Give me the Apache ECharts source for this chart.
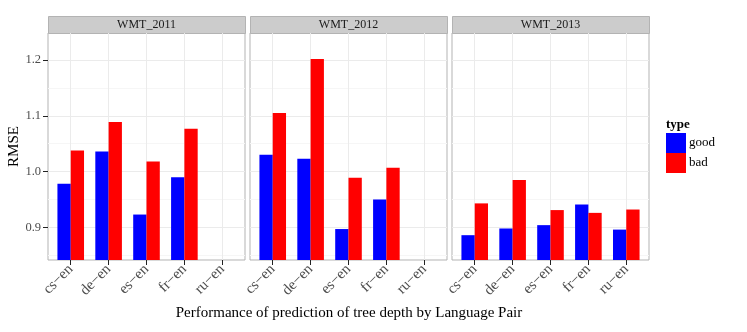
<!DOCTYPE html>
<html>
<head>
<meta charset="utf-8">
<script src="https://cdn.jsdelivr.net/npm/echarts@6/dist/echarts.min.js"></script>
<style>
  html, body { margin: 0; padding: 0; background: #fff; }
  #chart { width: 747px; height: 332px; }
</style>
</head>
<body>
<div id="chart"></div>
<script>
// data
const panels = ['WMT_2011', 'WMT_2012', 'WMT_2013']
const pairs = ['cs−en', 'de−en', 'es−en', 'fr−en', 'ru−en']
const types = ['good', 'bad']
// one array per panel, null = no bar
const good2011 = [0.978, 1.036, 0.923, 0.990, null]
const bad2011 = [1.038, 1.089, 1.018, 1.077, null]
const good2012 = [1.030, 1.023, 0.897, 0.950, null]
const bad2012 = [1.105, 1.202, 0.989, 1.007, null]
const good2013 = [0.886, 0.898, 0.904, 0.941, 0.896]
const bad2013 = [0.943, 0.985, 0.931, 0.926, 0.932]
const yTicks = [0.9, 1.0, 1.1, 1.2]
const yMinor = [0.85, 0.95, 1.05, 1.15]

const goodVals = [good2011, good2012, good2013]
const badVals = [bad2011, bad2012, bad2013]
const colors = { good: '#0000FF', bad: '#FF0000' }

const font = '"Liberation Serif", "DejaVu Serif", serif'
const panelLeft = [48, 250, 452]
const panelW = 197
const panelTop = 33
const panelH = 227
const yMin = 0.8415
const yMax = 1.2485
const catIdx = pairs.map((p, i) => i + 1)

const chart = echarts.init(document.getElementById('chart'))

let grid = [], xAxis = [], yAxis = [], series = [], graphic = []

function toPoints (vals) {
    // x is the 1-based category position
    return vals.map((v, i) => [i + 1, v]).filter(d => d[1] !== null)
}

panels.forEach((name, p) => {
    grid.push({
        left: panelLeft[p], top: panelTop, width: panelW, height: panelH,
        show: true, borderColor: '#B3B3B3', borderWidth: 1, backgroundColor: '#fff'
    })
    xAxis.push({
        type: 'value', gridIndex: p, min: 0.4, max: 5.6,
        axisLine: { show: false },
        axisTick: { show: true, customValues: catIdx, length: 5, lineStyle: { color: '#222' } },
        axisLabel: {
            show: true, customValues: catIdx, rotate: 45, margin: 7,
            fontFamily: font, fontSize: 15, color: '#4D4D4D',
            formatter: v => pairs[Math.round(v) - 1]
        },
        splitLine: { show: true, lineStyle: { color: '#EBEBEB', width: 1 } }
    })
    // main y axis (ticks / labels / major grid)
    yAxis.push({
        type: 'value', gridIndex: p, min: yMin, max: yMax,
        name: p === 0 ? 'RMSE' : '', nameLocation: 'middle', nameGap: 22,
        nameTextStyle: { fontFamily: font, fontSize: 15, color: '#000' },
        axisLine: { show: false },
        axisTick: { show: p === 0, customValues: yTicks, length: 5, lineStyle: { color: '#222' } },
        axisLabel: {
            show: p === 0, customValues: yTicks, margin: 7,
            fontFamily: font, fontSize: 12.5, color: '#4D4D4D',
            formatter: v => v.toFixed(1)
        },
        splitLine: { show: true, lineStyle: { color: '#EBEBEB', width: 1 } }
    })
    // hidden y axis only for the faint minor grid
    yAxis.push({
        type: 'value', gridIndex: p, min: yMin, max: yMax, position: 'right',
        axisLine: { show: false },
        axisTick: { show: false, customValues: yMinor },
        axisLabel: { show: false },
        splitLine: { show: true, lineStyle: { color: '#F6F6F6', width: 1 } }
    })
    series.push({
        name: 'good', type: 'bar', xAxisIndex: p, yAxisIndex: p * 2,
        barWidth: 13.3, barGap: '0%',
        itemStyle: { color: colors.good },
        data: toPoints(goodVals[p])
    })
    series.push({
        name: 'bad', type: 'bar', xAxisIndex: p, yAxisIndex: p * 2,
        barWidth: 13.3, barGap: '0%',
        itemStyle: { color: colors.bad },
        data: toPoints(badVals[p])
    })
    // facet strip
    graphic.push({
        type: 'rect', left: panelLeft[p], top: 16,
        shape: { width: panelW, height: 17 },
        style: { fill: '#CCCCCC', stroke: '#B3B3B3', lineWidth: 1 }
    })
    graphic.push({
        type: 'text', x: panelLeft[p] + panelW / 2, y: 24.5,
        style: {
            text: name, font: '12px ' + font, fill: '#1A1A1A',
            textAlign: 'center', textVerticalAlign: 'middle'
        }
    })
})

graphic.push({
    type: 'text', x: 349, y: 313,
    style: {
        text: 'Performance of prediction of tree depth by Language Pair',
        font: '15px ' + font, fill: '#000', textAlign: 'center', textVerticalAlign: 'middle'
    }
})
graphic.push({
    type: 'text', x: 666, y: 125,
    style: {
        text: 'type', font: 'bold 13px ' + font, fill: '#000',
        textAlign: 'left', textVerticalAlign: 'middle'
    }
})

let option = {
    animation: false,
    backgroundColor: '#fff',
    grid: grid,
    xAxis: xAxis,
    yAxis: yAxis,
    legend: {
        data: types, orient: 'vertical', left: 666, top: 133,
        padding: 0, itemGap: 0, itemWidth: 20, itemHeight: 20, icon: 'rect',
        textStyle: { fontFamily: font, fontSize: 13, color: '#000', padding: [0, 0, 0, -2] }
    },
    graphic: graphic,
    series: series
}
chart.setOption(option)
</script>
</body>
</html>
